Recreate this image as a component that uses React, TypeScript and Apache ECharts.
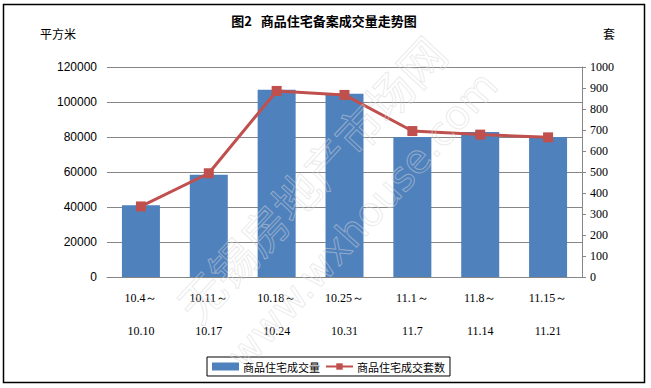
import React, { useEffect, useRef } from "react";
import * as echarts from "echarts";

const categories = ["10.4～\n10.10", "10.11～\n10.17", "10.18～\n10.24", "10.25～\n10.31", "11.1～\n11.7", "11.8～\n11.14", "11.15～\n11.21"];
const areaValues = [41000, 58500, 107000, 104700, 80000, 82800, 80000];
const unitValues = [336, 494, 886, 867, 695, 678, 665];
const leftTicks = { min: 0, max: 120000, interval: 20000 };
const rightTicks = { min: 0, max: 1000, interval: 100 };

export default function App() {
  const ref = useRef<HTMLDivElement>(null);
  useEffect(() => {
    if (!ref.current) return;
    const chart = echarts.init(ref.current, undefined, { renderer: "svg" });
    const cjk = '"Noto Sans CJK SC", "Noto Sans", sans-serif';
    const serif = '"Liberation Serif", "DejaVu Serif", serif';
    chart.setOption({
      animation: false,
      backgroundColor: "#ffffff",
      grid: { left: 107, right: 69, top: 67, bottom: 111, containLabel: false },
      graphic: [
        { type: "rect", shape: { x: 3.5, y: 4.5, width: 641, height: 378 }, style: { fill: "none", stroke: "#000", lineWidth: 1.5 }, z: 0 },
        { type: "text", x: 324, y: 20, style: { text: "图2   商品住宅备案成交量走势图", font: 'bold 13px ' + cjk, fill: "#000", textAlign: "center", textVerticalAlign: "middle" } },
        { type: "text", x: 40, y: 33, style: { text: "平方米", font: '12px ' + cjk, fill: "#000", textAlign: "left", textVerticalAlign: "middle" } },
        { type: "text", x: 603, y: 33, style: { text: "套", font: '12px ' + cjk, fill: "#000", textAlign: "left", textVerticalAlign: "middle" } },
        { type: "text", x: 310, y: 178, rotation: 0.82, z: 100, style: { text: "无锡房地产市场网", font: '46px ' + cjk, fill: "rgba(255,255,255,0)", stroke: "rgba(215,215,215,0.5)", lineWidth: 1, textAlign: "center", textVerticalAlign: "middle" } },
        { type: "text", x: 362, y: 220, rotation: 0.84, z: 100, style: { text: "www.wxhouse.com", font: '40px "DejaVu Sans", sans-serif', fill: "rgba(255,255,255,0)", stroke: "rgba(215,215,215,0.5)", lineWidth: 1, textAlign: "center", textVerticalAlign: "middle" } }
      ],
      legend: {
        left: 207, top: 357,
        orient: "horizontal",
        padding: [4, 5, 4, 5],
        itemGap: 5,
        borderColor: "#000", borderWidth: 1,
        itemWidth: 27, itemHeight: 8,
        textStyle: { fontSize: 11, fontFamily: cjk, color: "#000", padding: [0, 0, 0, -1] },
        data: [
          { name: "商品住宅成交量", icon: "rect" },
          { name: "商品住宅成交套数" }
        ]
      },
      xAxis: {
        type: "category",
        data: categories,
        axisLine: { show: true, lineStyle: { color: "#868686", width: 1 } },
        axisTick: { show: false },
        axisLabel: { margin: 4, fontSize: 12, lineHeight: 33, color: "#000", fontFamily: serif, interval: 0 }
      },
      yAxis: [
        {
          type: "value", ...leftTicks, position: "left",
          axisLine: { show: false }, axisTick: { show: false },
          splitLine: { show: true, lineStyle: { color: "#868686", width: 1 } },
          axisLabel: { margin: 10, fontSize: 12, color: "#000", fontFamily: '"Liberation Sans", Arial, sans-serif', formatter: (v: number) => String(v) }
        },
        {
          type: "value", ...rightTicks, position: "right",
          axisLine: { show: true, lineStyle: { color: "#868686", width: 1 } },
          axisTick: { show: true, inside: false, length: 4, lineStyle: { color: "#868686" } },
          splitLine: { show: false },
          axisLabel: { margin: 8, fontSize: 12, color: "#000", fontFamily: serif, formatter: (v: number) => String(v) }
        }
      ],
      series: [
        {
          name: "商品住宅成交量", type: "bar", data: areaValues, yAxisIndex: 0,
          barWidth: 38, itemStyle: { color: "#4F81BD" }
        },
        {
          name: "商品住宅成交套数", type: "line", data: unitValues, yAxisIndex: 1,
          symbol: "rect", symbolSize: 10,
          lineStyle: { color: "#C0504D", width: 3 },
          itemStyle: { color: "#C0504D" }
        }
      ]
    });
    return () => chart.dispose();
  }, []);
  return <div ref={ref} style={{ position: "fixed", left: 0, top: 0, width: 651, height: 388 }} />;
}
